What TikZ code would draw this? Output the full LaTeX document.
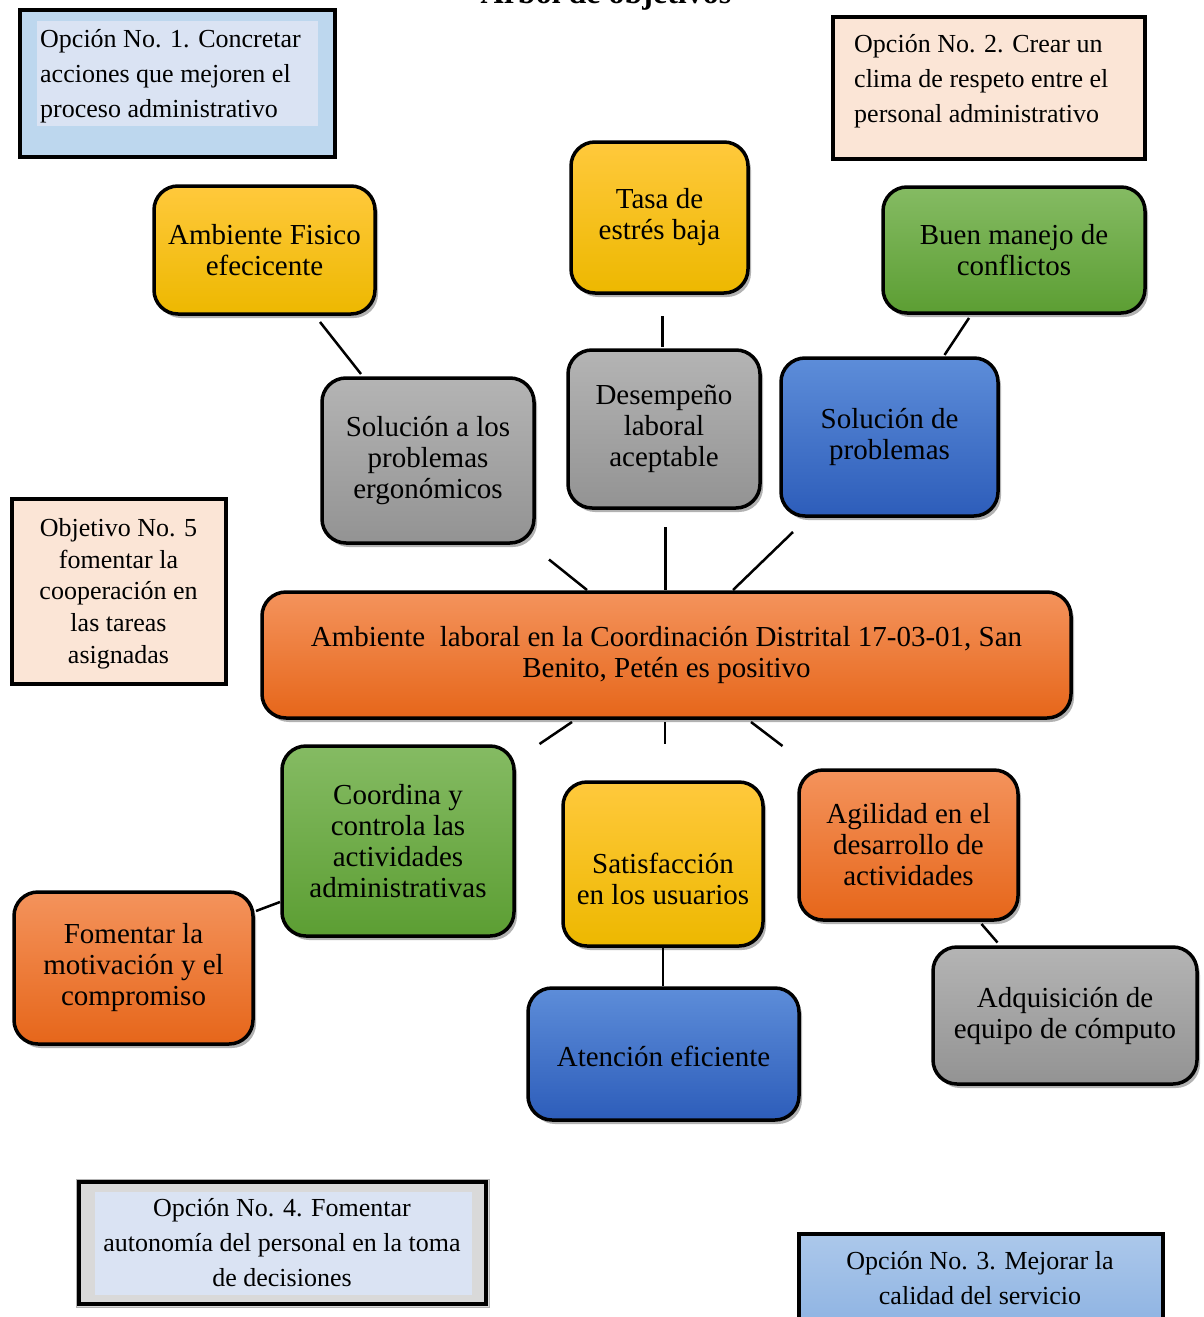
\documentclass[tikz,border=0pt]{standalone}
\usepackage{fontspec}
\setmainfont{Liberation Serif}
\usetikzlibrary{shadows}
\definecolor{opblue}{HTML}{BDD7EE}
\definecolor{hlblue}{HTML}{DAE3F3}
\definecolor{peach}{HTML}{FBE5D6}
\definecolor{grayfour}{HTML}{D9D9D9}
\definecolor{opthreeT}{HTML}{ACC8EB}
\definecolor{opthreeB}{HTML}{88AFE0}
\definecolor{yelT}{HTML}{FFC93C}
\definecolor{yelB}{HTML}{EDB800}
\definecolor{grnT}{HTML}{85BB63}
\definecolor{grnB}{HTML}{5C9E33}
\definecolor{gryT}{HTML}{B4B4B4}
\definecolor{gryB}{HTML}{939393}
\definecolor{bluT}{HTML}{5D8DD9}
\definecolor{bluB}{HTML}{2D5DBA}
\definecolor{orgT}{HTML}{F4935C}
\definecolor{orgB}{HTML}{E6661A}
\newcommand\nodefont{\fontsize{29}{31}\selectfont}
\newcommand\optfont{\fontsize{26}{35}\selectfont}
\newcommand\objfont{\fontsize{26}{31.6}\selectfont}
\tikzset{
  rbox/.style={draw=black, line width=3.5pt, rounded corners=24pt, align=center,
    font=\nodefont, inner sep=0pt, execute at begin node={\rule{0pt}{26pt}},
    drop shadow={shadow xshift=3pt, shadow yshift=-4pt, opacity=0.3, fill=black}},
  yel/.style={rbox, top color=yelT, bottom color=yelB},
  grn/.style={rbox, top color=grnT, bottom color=grnB},
  gry/.style={rbox, top color=gryT, bottom color=gryB},
  blu/.style={rbox, top color=bluT, bottom color=bluB},
  org/.style={rbox, top color=orgT, bottom color=orgB},
  optframe/.style={draw=black, line width=4pt},
  opttext/.style={font=\optfont, inner sep=0pt},
  conn/.style={draw=black, line width=2.5pt}
}
\begin{document}
\begin{tikzpicture}[x=1pt,y=-1pt]
\useasboundingbox (0,0) rectangle (1203,1317);
\fill[white] (0,0) rectangle (1203,1317);

% title
\node (title) [anchor=base, font=\fontsize{32}{36}\selectfont\bfseries, inner sep=0pt] at (606,3) {Árbol de objetivos};

% option 1
\draw[optframe, fill=opblue] (20,10) rectangle (335,157);
\fill[hlblue] (37,21) rectangle (318,126);
\node (op1) [opttext, anchor=west, align=left] at (40,76) {Opción No. 1. Concretar\\acciones que mejoren el\\proceso administrativo};

% option 2
\draw[optframe, fill=peach] (833,17) rectangle (1145,159);
\node (op2) [opttext, anchor=west, align=left] at (854,81) {Opción No. 2. Crear un\\clima de respeto entre el\\personal administrativo};

% objective 5
\draw[optframe, fill=peach] (12,499) rectangle (226,684);
\node (obj5) [font=\objfont, inner sep=0pt, align=center] at (118.5,593.6) {Objetivo No. 5\\fomentar la\\cooperación en\\las tareas\\asignadas};

% option 4
\draw[gray!60, line width=1pt, fill=grayfour] (76,1179) rectangle (489,1307);
\draw[optframe] (79,1182) rectangle (486,1304);
\fill[hlblue] (95,1192) rectangle (471.5,1295);
\node (op4) [opttext, align=center] at (282,1243) {Opción No. 4. Fomentar\\autonomía del personal en la toma\\de decisiones};

% option 3
\draw[optframe, top color=opthreeT, bottom color=opthreeB] (799,1234) rectangle (1163,1345);
\node (op3) [opttext, align=center] at (980,1278.5) {Opción No. 3. Mejorar la\\calidad del servicio};

% connectors (coordinates)
\coordinate (c1a) at (320,322); \coordinate (c1b) at (361,374);
\coordinate (c2a) at (662.5,316); \coordinate (c2b) at (662.5,347);
\coordinate (c3a) at (969,318); \coordinate (c3b) at (944.5,355);
\coordinate (c4a) at (549,559.5); \coordinate (c4b) at (587,590);
\coordinate (c5a) at (665.5,527); \coordinate (c5b) at (665.5,590);
\coordinate (c6a) at (793,532); \coordinate (c6b) at (733,590);
\coordinate (c7a) at (572,722); \coordinate (c7b) at (539.5,744);
\coordinate (c8a) at (665,722); \coordinate (c8b) at (665,744);
\coordinate (c9a) at (751,722); \coordinate (c9b) at (782.5,746);
\coordinate (c10a) at (256,911); \coordinate (c10b) at (280,902);
\coordinate (c11a) at (663,948); \coordinate (c11b) at (663,986);
\coordinate (c12a) at (981.5,924); \coordinate (c12b) at (997.5,942.5);
\foreach \i in {1,...,12} {\draw[conn] (c\i a) -- (c\i b);}

% rounded nodes
\node (fis) [yel, minimum width=221pt, minimum height=128pt] at (264.5,250) {Ambiente Fisico\\efecicente};
\node (tasa) [yel, minimum width=177pt, minimum height=151pt] at (659.5,217.5) {Tasa de\\estrés baja};
\node (buen) [grn, minimum width=262pt, minimum height=126pt] at (1014,250) {Buen manejo de\\conflictos};
\node (ergo) [gry, minimum width=212pt, minimum height=165pt] at (428,460.5) {Solución a los\\problemas\\ergonómicos};
\node (des) [gry, minimum width=192pt, minimum height=158pt] at (664,429) {Desempeño\\laboral\\aceptable};
\node (sol) [blu, minimum width=217pt, minimum height=158pt] at (889.5,437) {Solución de\\problemas};
\node (amb) [org, minimum width=809pt, minimum height=126pt] at (666.5,655) {Ambiente~ laboral en la Coordinación Distrital 17-03-01, San\\Benito, Petén es positivo};
\node (coord) [grn, minimum width=232pt, minimum height=190pt] at (398,841) {Coordina y\\controla las\\actividades\\administrativas};
\node (sat) [yel, minimum width=200pt, minimum height=164pt] at (663,864) {\rule{0pt}{50pt}Satisfacción\\en los usuarios};
\node (agil) [org, minimum width=219pt, minimum height=150pt] at (908.5,845) {Agilidad en el\\desarrollo de\\actividades};
\node (fom) [org, minimum width=239pt, minimum height=152pt] at (133.5,968) {Fomentar la\\motivación y el\\compromiso};
\node (aten) [blu, minimum width=271pt, minimum height=132pt] at (663.5,1054) {Atención eficiente};
\node (adq) [gry, minimum width=264pt, minimum height=137pt] at (1065,1015.5) {Adquisición de\\equipo de cómputo};
\end{tikzpicture}
\end{document}
